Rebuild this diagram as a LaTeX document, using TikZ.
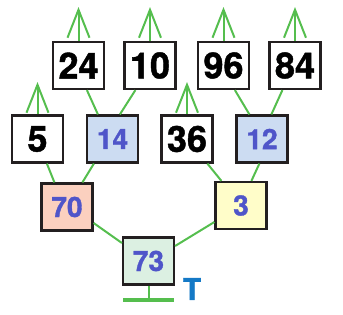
\documentclass[tikz,border=0pt]{standalone}
\usepackage{fontspec}
\setmainfont{TeX Gyre Heros}[BoldFeatures={FakeBold=1.2}]
\usetikzlibrary{arrows.meta,calc}
\definecolor{edgegreen}{HTML}{55BE4E}
\definecolor{boxline}{HTML}{231F20}
\definecolor{numblue}{HTML}{4F55C9}
\definecolor{tblue}{HTML}{1479C6}
\definecolor{fillblue}{HTML}{CCDCF2}
\definecolor{fillred}{HTML}{FBD0BF}
\definecolor{fillyellow}{HTML}{FFFDC9}
\definecolor{fillgreen}{HTML}{DCF0E2}

\begin{document}
\begin{tikzpicture}[x=1pt,y=-1pt,
 leaf/.style={draw=boxline,line width=2.2pt,fill=white,minimum width=51pt,minimum height=47pt,inner sep=0pt,font=\bfseries\fontsize{36}{36}\selectfont},
 inner/.style={leaf,text=numblue,font=\bfseries\fontsize{28}{28}\selectfont},
 link/.style={draw=edgegreen,line width=2pt},
 upward/.style={link,-{Straight Barb[length=28pt,width=22pt]}},
 ground/.style={draw=edgegreen,line width=3.5pt}
]
\useasboundingbox (0,0) rectangle (343,314);
% upper leaves
\node[leaf] (n24) at (78.5,65.5) {24};
\node[leaf] (n10) at (150,65.5) {10};
\node[leaf] (n96) at (223.5,65.5) {96};
\node[leaf] (n84) at (295,65.5) {84};
% second row
\node[leaf] (n5) at (37.5,139) {5};
\node[inner,fill=fillblue] (n14) at (112.5,139) {14};
\node[leaf] (n36) at (187,139) {36};
\node[inner,fill=fillblue] (n12) at (262,139) {12};
% third row and root
\node[inner,fill=fillred] (n70) at (67,207) {70};
\node[inner,fill=fillyellow] (n3) at (241,205.5) {3};
\node[inner,fill=fillgreen] (n73) at (148.5,261) {73};
\node[text=tblue,font=\bfseries\fontsize{30}{30}\selectfont] (tlabel) at (192,289) {T};
% arrow ends
\coordinate (u24) at (78.5,7);
\coordinate (u10) at (150,7);
\coordinate (u96) at (223.5,7);
\coordinate (u84) at (295,7);
\coordinate (u5) at (37.5,82);
\coordinate (u36) at (187,82);
\foreach \n in {24,10,96,84,5,36}
 \draw[upward] (n\n.north) -- (u\n);
% tree links
\draw[link] ($(n14.north west)+(12,0)$) -- ($(n24.south west)+(35,0)$);
\draw[link] ($(n14.north west)+(34,0)$) -- ($(n10.south west)+(12,0)$);
\draw[link] ($(n12.north west)+(14,0)$) -- ($(n96.south west)+(38,0)$);
\draw[link] ($(n12.north west)+(36,0)$) -- ($(n84.south west)+(14,0)$);
\draw[link] ($(n5.south west)+(36,0)$) -- ($(n70.north west)+(14,0)$);
\draw[link] ($(n14.south west)+(8,0)$) -- ($(n70.north west)+(42,0)$);
\draw[link] ($(n36.south west)+(47,0)$) -- ($(n3.north west)+(7,0)$);
\draw[link] ($(n12.south west)+(24,0)$) -- ($(n3.north west)+(37,0)$);
\draw[link] ($(n70.east)+(0,16)$) -- ($(n73.west)+(0,-18)$);
\draw[link] ($(n3.west)+(0,16.5)$) -- ($(n73.east)+(0,-15)$);
% ground
\coordinate (g) at (148.5,300);
\coordinate (gl) at (123,300);
\coordinate (gr) at (174,300);
\draw[link] (n73.south) -- (g);
\draw[ground] (gl) -- (gr);
\end{tikzpicture}
\end{document}
